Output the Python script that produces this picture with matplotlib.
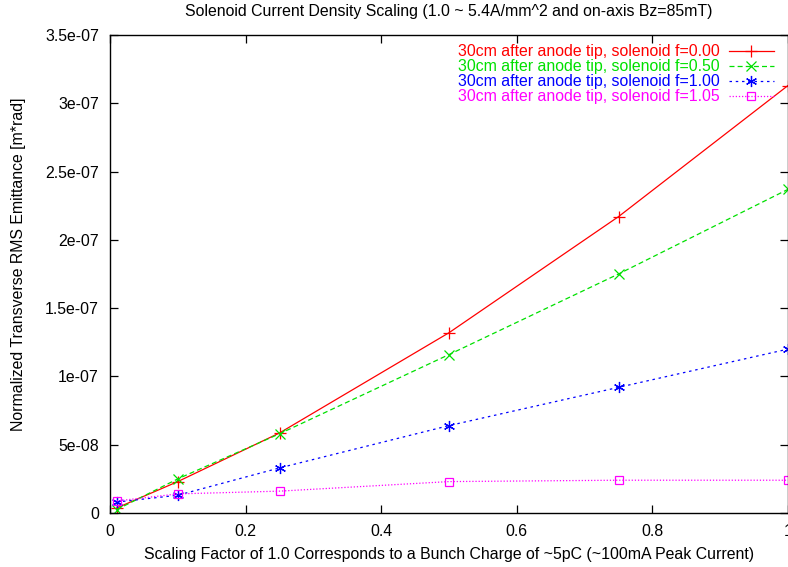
import matplotlib
matplotlib.use("Agg")
import matplotlib.pyplot as plt
from matplotlib.ticker import FuncFormatter, MultipleLocator

plt.rcParams['font.family'] = ['Liberation Sans', 'DejaVu Sans']

scale = [0.01, 0.1, 0.25, 0.5, 0.75, 1.0]
emit_f000 = [3.7e-9, 2.3e-8, 5.86e-8, 1.32e-7, 2.17e-7, 3.13e-7]
emit_f050 = [2.5e-9, 2.5e-8, 5.8e-8, 1.16e-7, 1.75e-7, 2.37e-7]
emit_f100 = [8.0e-9, 1.3e-8, 3.3e-8, 6.4e-8, 9.2e-8, 1.2e-7]
emit_f105 = [8.8e-9, 1.4e-8, 1.6e-8, 2.3e-8, 2.4e-8, 2.4e-8]

labels = ["30cm after anode tip, solenoid f=0.00",
          "30cm after anode tip, solenoid f=0.50",
          "30cm after anode tip, solenoid f=1.00",
          "30cm after anode tip, solenoid f=1.05"]

fs = 11.4

fig = plt.figure(figsize=(7.88, 5.67), dpi=100)
ax = fig.add_axes([110/788, 1-513/567, 678/788, 478/567])

ax.plot(scale, emit_f000, color='red', ls='-', lw=0.9, marker='+', ms=8, mew=0.9, label=labels[0])
ax.plot(scale, emit_f050, color='#00e000', ls=(0, (4, 2.5)), lw=0.9, marker='x', ms=7, mew=0.9, label=labels[1])
ax.plot(scale, emit_f100, color='blue', ls=(0, (2, 3)), lw=0.9, marker=(6, 2, 0), ms=8, mew=0.9, label=labels[2])
ax.plot(scale, emit_f105, color='magenta', ls=(0, (1, 1.5)), lw=0.9, marker='s', ms=6, mew=0.9,
        mfc='none', label=labels[3])

ax.set_xlim(0, 1)
ax.set_ylim(0, 3.5e-7)
ax.xaxis.set_major_locator(MultipleLocator(0.2))
ax.yaxis.set_major_locator(MultipleLocator(5e-8))
ax.xaxis.set_major_formatter(FuncFormatter(lambda v, p: '%g' % round(v, 6)))
ax.yaxis.set_major_formatter(FuncFormatter(lambda v, p: '%g' % (0 if abs(v) < 1e-12 else float('%.3g' % v))))
ax.tick_params(direction='in', length=6, width=0.9, top=True, right=True, labelsize=fs)
ax.tick_params(axis='x', pad=8)
ax.tick_params(axis='y', pad=8)
for s in ax.spines.values():
    s.set_linewidth(1.0)

ax.set_xlabel("Scaling Factor of 1.0 Corresponds to a Bunch Charge of ~5pC (~100mA Peak Current)", fontsize=fs)
ax.xaxis.set_label_coords(0.5, -34/478)
ax.set_ylabel("Normalized Transverse RMS Emittance [m*rad]", fontsize=fs)
ax.yaxis.set_label_coords(-84/678, 0.52)
ax.set_title("Solenoid Current Density Scaling (1.0 ~ 5.4A/mm^2 and on-axis Bz=85mT)",
             fontsize=fs, pad=14)

leg = ax.legend(loc='upper right', frameon=False, markerfirst=False, labelcolor='linecolor',
                fontsize=fs, handlelength=2.8, handletextpad=0.6, labelspacing=0.0,
                borderaxespad=0.3, bbox_to_anchor=(0.995, 1.004))
for t in leg.get_texts():
    t.set_ha('right')

fig.savefig("out.png", dpi=100)
